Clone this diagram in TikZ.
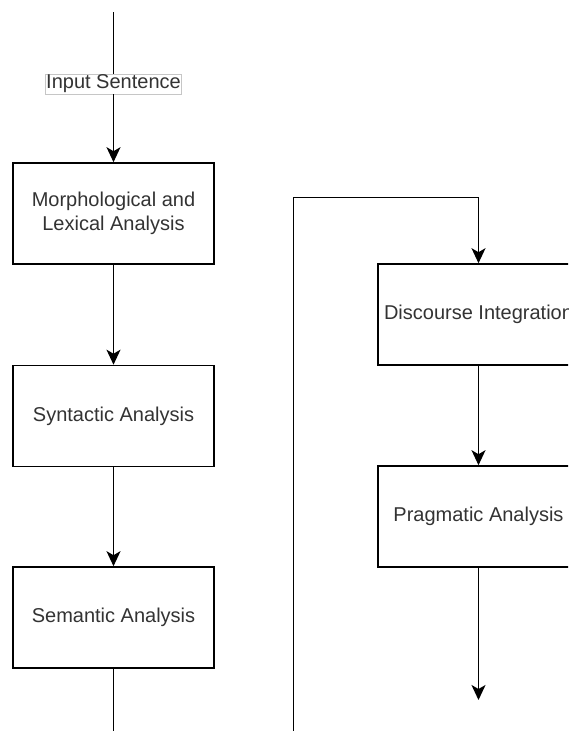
\documentclass[tikz,border=0pt]{standalone}
\usepackage{fontspec}
\setmainfont{Liberation Sans}
\usetikzlibrary{arrows.meta}
\definecolor{txt}{HTML}{333333}
\begin{document}
\begin{tikzpicture}[x=1pt,y=-1pt,
  stagebox/.style={draw=black,line width=1.6pt,minimum width=201pt,minimum height=101pt,inner sep=0pt,align=center,text=txt,font=\fontsize{20}{24}\selectfont},
  lbl/.style={draw=gray!45,line width=0.8pt,fill=white,inner sep=1pt,text=txt,font=\fontsize{20}{24}\selectfont},
  conn/.style={line width=1.6pt,draw=black},
  arr/.style={conn,-{Stealth[length=15pt,width=14pt,inset=4pt]}}]
\clip (0,0) rectangle (568,731);
\fill[white] (0,0) rectangle (568,731);
\coordinate (top) at (113.5,12);
\node[lbl] (in) at (113.5,84) {Input Sentence};
\node[stagebox] (m) at (113.5,213.5) {Morphological and\\Lexical Analysis};
\node[stagebox] (syn) at (113.5,416) {Syntactic Analysis};
\node[stagebox] (sem) at (113.5,617.5) {Semantic Analysis};
\node[stagebox] (dis) at (478.5,314.5) {Discourse Integration};
\node[stagebox] (prag) at (478.5,516.5) {Pragmatic Analysis};
\coordinate (sembot) at (113.5,735);
\coordinate (rb) at (293.3,735);
\coordinate (rt) at (293.3,197.3);
\coordinate (pend) at (478.5,700);
\draw[conn] (top) -- (in);
\draw[arr] (in) -- (m);
\draw[arr] (m) -- (syn);
\draw[arr] (syn) -- (sem);
\draw[conn] (sem) -- (sembot);
\draw[arr] (rb) -- (rt) -| (dis.north);
\draw[arr] (dis) -- (prag);
\draw[arr] (prag) -- (pend);
\end{tikzpicture}
\end{document}
